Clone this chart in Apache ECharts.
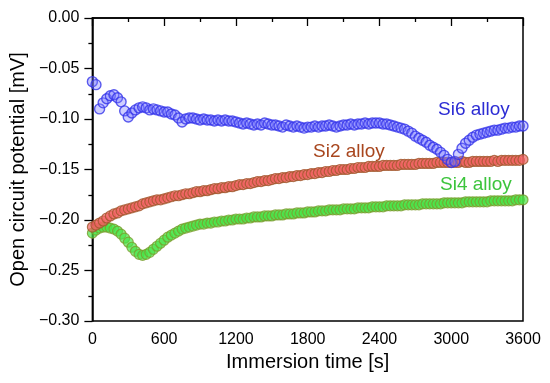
<!DOCTYPE html>
<html>
<head>
<meta charset="utf-8">
<script src="https://cdn.jsdelivr.net/npm/echarts@6/dist/echarts.min.js"></script>
<style>
html,body{margin:0;padding:0;background:#fff;}
#chart{width:550px;height:383px;}
</style>
</head>
<body>
<div id="chart"></div>
<script>
// Immersion time [s]
const times = [
  0,30,60,90,120,150,180,210,240,270,
  300,330,360,390,420,450,480,510,540,570,
  600,630,660,690,720,750,780,810,840,870,
  900,930,960,990,1020,1050,1080,1110,1140,1170,
  1200,1230,1260,1290,1320,1350,1380,1410,1440,1470,
  1500,1530,1560,1590,1620,1650,1680,1710,1740,1770,
  1800,1830,1860,1890,1920,1950,1980,2010,2040,2070,
  2100,2130,2160,2190,2220,2250,2280,2310,2340,2370,
  2400,2430,2460,2490,2520,2550,2580,2610,2640,2670,
  2700,2730,2760,2790,2820,2850,2880,2910,2940,2970,
  3000,3030,3060,3090,3120,3150,3180,3210,3240,3270,
  3300,3330,3360,3390,3420,3450,3480,3510,3540,3570,
  3600
];
// Si6 alloy
const si6 = [
  -0.063,-0.066,-0.090,-0.084,-0.080,-0.077,-0.076,-0.079,-0.083,-0.092,
  -0.098,-0.094,-0.091,-0.089,-0.088,-0.089,-0.091,-0.090,-0.091,-0.092,
  -0.093,-0.093,-0.095,-0.096,-0.099,-0.103,-0.100,-0.099,-0.099,-0.100,
  -0.101,-0.100,-0.101,-0.101,-0.102,-0.101,-0.102,-0.101,-0.102,-0.102,
  -0.103,-0.104,-0.105,-0.104,-0.105,-0.106,-0.105,-0.106,-0.104,-0.105,
  -0.106,-0.106,-0.107,-0.108,-0.106,-0.107,-0.108,-0.107,-0.108,-0.109,
  -0.108,-0.108,-0.107,-0.108,-0.107,-0.107,-0.106,-0.107,-0.108,-0.107,
  -0.106,-0.106,-0.105,-0.106,-0.105,-0.105,-0.104,-0.105,-0.104,-0.104,
  -0.104,-0.105,-0.105,-0.106,-0.107,-0.108,-0.109,-0.110,-0.112,-0.114,
  -0.117,-0.119,-0.121,-0.123,-0.126,-0.128,-0.130,-0.133,-0.136,-0.140,
  -0.143,-0.142,-0.135,-0.129,-0.124,-0.121,-0.118,-0.116,-0.115,-0.114,
  -0.113,-0.112,-0.111,-0.111,-0.110,-0.109,-0.109,-0.108,-0.108,-0.107,
  -0.107
];
// Si2 alloy
const si2 = [
  -0.207,-0.205,-0.203,-0.201,-0.198,-0.196,-0.194,-0.193,-0.191,-0.190,
  -0.189,-0.188,-0.187,-0.186,-0.184,-0.183,-0.182,-0.181,-0.180,-0.180,
  -0.179,-0.178,-0.177,-0.176,-0.176,-0.175,-0.174,-0.174,-0.173,-0.172,
  -0.172,-0.171,-0.171,-0.170,-0.169,-0.169,-0.168,-0.168,-0.167,-0.167,
  -0.166,-0.165,-0.165,-0.164,-0.164,-0.163,-0.162,-0.162,-0.161,-0.161,
  -0.160,-0.159,-0.159,-0.158,-0.158,-0.157,-0.157,-0.156,-0.156,-0.155,
  -0.155,-0.154,-0.154,-0.153,-0.153,-0.152,-0.152,-0.151,-0.151,-0.150,
  -0.150,-0.150,-0.149,-0.149,-0.148,-0.148,-0.148,-0.147,-0.147,-0.147,
  -0.147,-0.146,-0.146,-0.146,-0.146,-0.146,-0.145,-0.145,-0.145,-0.145,
  -0.145,-0.144,-0.144,-0.144,-0.144,-0.144,-0.143,-0.143,-0.143,-0.143,
  -0.143,-0.143,-0.143,-0.142,-0.143,-0.143,-0.142,-0.142,-0.142,-0.142,
  -0.142,-0.142,-0.141,-0.142,-0.141,-0.141,-0.141,-0.141,-0.141,-0.141,
  -0.140
];
// Si4 alloy
const si4 = [
  -0.213,-0.210,-0.208,-0.207,-0.207,-0.208,-0.209,-0.211,-0.214,-0.218,
  -0.222,-0.227,-0.231,-0.234,-0.235,-0.234,-0.232,-0.229,-0.226,-0.223,
  -0.220,-0.217,-0.215,-0.213,-0.211,-0.209,-0.208,-0.207,-0.206,-0.205,
  -0.204,-0.204,-0.203,-0.203,-0.202,-0.202,-0.201,-0.201,-0.200,-0.200,
  -0.199,-0.199,-0.199,-0.198,-0.198,-0.197,-0.197,-0.197,-0.196,-0.196,
  -0.196,-0.195,-0.195,-0.195,-0.194,-0.194,-0.194,-0.193,-0.193,-0.193,
  -0.192,-0.192,-0.192,-0.191,-0.191,-0.191,-0.190,-0.190,-0.190,-0.190,
  -0.189,-0.189,-0.189,-0.189,-0.188,-0.188,-0.188,-0.188,-0.187,-0.187,
  -0.187,-0.187,-0.186,-0.186,-0.186,-0.186,-0.186,-0.185,-0.185,-0.185,
  -0.185,-0.185,-0.184,-0.184,-0.184,-0.184,-0.184,-0.184,-0.183,-0.183,
  -0.183,-0.183,-0.183,-0.183,-0.182,-0.182,-0.182,-0.182,-0.182,-0.182,
  -0.182,-0.181,-0.181,-0.181,-0.181,-0.181,-0.181,-0.181,-0.180,-0.180,
  -0.180
];
const seriesNames = ['Si4 alloy', 'Si2 alloy', 'Si6 alloy'];
const xTicks = [0, 600, 1200, 1800, 2400, 3000, 3600];

const FONT = '"Liberation Sans", Arial, sans-serif';
const chart = echarts.init(document.getElementById('chart'), null, {renderer: 'canvas'});

function pairs(vals) { return times.map((t, i) => [t, vals[i]]); }

const axisCommon = {
  axisLine: {show: true, lineStyle: {color: '#000', width: 1.5}},
  axisTick: {show: true, inside: false, length: 8, lineStyle: {color: '#000', width: 1.3}},
  minorTick: {show: true, splitNumber: 2, length: 4, lineStyle: {color: '#000', width: 1.3}},
  splitLine: {show: false},
  minorSplitLine: {show: false},
  nameTextStyle: {fontFamily: FONT, fontSize: 20, color: '#000'}
};

chart.setOption({
  animation: false,
  backgroundColor: '#fff',
  grid: {left: 91, right: 27, top: 18, bottom: 62, show: true, borderColor: '#000', borderWidth: 1.5, backgroundColor: 'transparent'},
  xAxis: Object.assign({}, axisCommon, {
    type: 'value', min: xTicks[0], max: xTicks[xTicks.length - 1], interval: 600,
    name: 'Immersion time [s]', nameLocation: 'middle', nameGap: 31,
    axisLabel: {fontFamily: FONT, fontSize: 16, color: '#000', margin: 11, formatter: v => String(v)}
  }),
  yAxis: Object.assign({}, axisCommon, {
    type: 'value', min: -0.3, max: 0, interval: 0.05,
    name: 'Open circuit potential [mV]', nameLocation: 'middle', nameGap: 59, nameRotate: 90,
    axisLabel: {fontFamily: FONT, fontSize: 16, color: '#000', margin: 13,
      formatter: v => (v < -1e-9 ? '\u2212' : '') + Math.abs(v).toFixed(2)}
  }),
  series: [
    {name: seriesNames[0], type: 'scatter', data: pairs(si4), symbol: 'circle', symbolSize: 10,
     itemStyle: {color: 'rgba(70,228,70,0.85)', borderColor: '#7a9c2c', borderWidth: 1.2}},
    {name: seriesNames[1], type: 'scatter', data: pairs(si2), symbol: 'circle', symbolSize: 10,
     itemStyle: {color: 'rgba(242,96,96,0.85)', borderColor: '#a0582c', borderWidth: 1.2}},
    {name: seriesNames[2], type: 'scatter', data: pairs(si6), symbol: 'circle', symbolSize: 10,
     itemStyle: {color: 'rgba(120,120,255,0.45)', borderColor: '#3434ea', borderWidth: 1.4}}
  ],
  graphic: [
    {type: 'text', x: 438, y: 110, silent: true,
     style: {text: 'Si6 alloy', fill: '#2c2cd4', font: '19px ' + FONT, textAlign: 'left', textVerticalAlign: 'middle'}},
    {type: 'text', x: 313, y: 152, silent: true,
     style: {text: 'Si2 alloy', fill: '#a8461e', font: '19px ' + FONT, textAlign: 'left', textVerticalAlign: 'middle'}},
    {type: 'text', x: 440, y: 185, silent: true,
     style: {text: 'Si4 alloy', fill: '#3cc43c', font: '19px ' + FONT, textAlign: 'left', textVerticalAlign: 'middle'}}
  ]
});
</script>
</body>
</html>
